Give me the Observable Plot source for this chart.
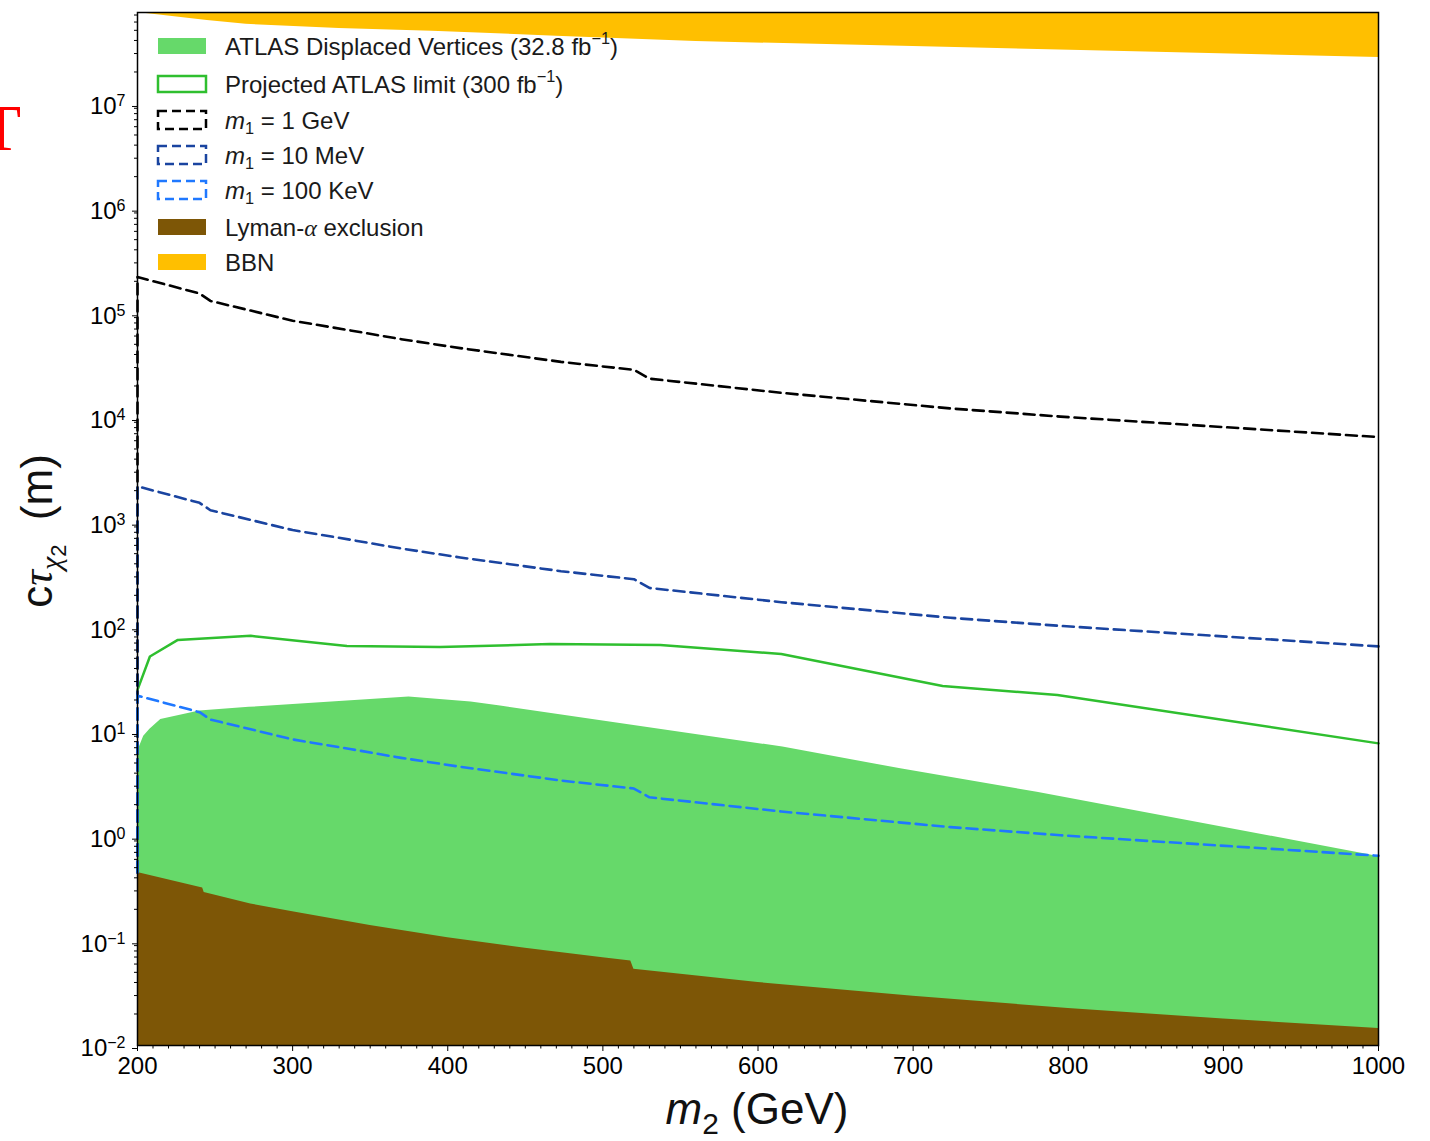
<!DOCTYPE html>
<html>
<head>
<meta charset="utf-8">
<script src="https://cdn.jsdelivr.net/npm/d3@7"></script>
<script src="https://cdn.jsdelivr.net/npm/@observablehq/plot@0.6"></script>
<style>
  body { margin: 0; background: #fff; }
  #chart svg { display: block; }
</style>
</head>
<body>
<div id="chart"></div>
<script>
// ---- Data: lifetime c·tau of chi2 (m) versus m2 (GeV) ----

// BBN excluded band (from this lower edge up to the top of the plot)
const massBBN  = [200, 245, 270, 330, 390, 470, 560, 700, 850, 1000];
const bbnLimit = [7.4e7, 6.2e7, 5.7e7, 5.2e7, 4.9e7, 4.4e7, 3.9e7, 3.5e7, 3.1e7, 2.75e7];

// ATLAS displaced-vertex excluded region (32.8 fb^-1), upper edge
const massDV  = [200, 204, 208, 215, 240, 272, 375, 415, 434, 616, 692, 780, 1000];
const atlasDV = [6.4, 9, 10.5, 13, 15.7, 17, 21.3, 19.1, 17.5, 7.1, 4.4, 2.63, 0.64];

// Lyman-alpha excluded region, upper edge
const massLya    = [200, 242, 243, 273, 300, 350, 400, 450, 500, 518, 520, 600, 700, 800, 900, 1000];
const lymanAlpha = [0.45, 0.32, 0.29, 0.225, 0.19, 0.14, 0.107, 0.085, 0.069, 0.064, 0.0535, 0.040, 0.0295, 0.0226, 0.0179, 0.0145];

// Projected ATLAS limit (300 fb^-1)
const massProj       = [200, 208, 226, 273, 335, 395, 466, 537, 615, 719, 793, 1000];
const atlasProjected = [25, 52, 75, 82, 65.5, 64, 68.5, 67, 55, 27.2, 22.3, 7.7];

// Predicted lifetime for three values of m1
const massM1   = [200, 200, 240, 247, 273, 300, 337, 370, 408, 473, 520, 530, 615, 724, 795, 1000];
const ctau1GeV = [0.45, 2.2e5, 1.53e5, 1.3e5, 1.05e5, 8.4e4, 6.8e4, 5.6e4, 4.6e4, 3.4e4, 2.85e4, 2.35e4, 1.72e4, 1.22e4, 1.02e4, 6.5e3];
const ctau10MeV  = [0.45, 2.2e3, 1.53e3, 1.3e3, 1.05e3, 840, 680, 560, 460, 340, 285, 235, 172, 122, 102, 65];
const ctau100KeV = [0.45, 22, 15.3, 13, 10.5, 8.4, 6.8, 5.6, 4.6, 3.4, 2.85, 2.35, 1.72, 1.22, 1.02, 0.65];

// Axes
const xTicks = [200, 300, 400, 500, 600, 700, 800, 900, 1000];
const yTicks = [1e-2, 1e-1, 1e0, 1e1, 1e2, 1e3, 1e4, 1e5, 1e6, 1e7];
const yBottom = 1e-2, yTop = 7.4e7;

const xMinor = d3.range(210, 1000, 10).filter(v => v % 100 !== 0);
const yMinor = [];
for (let e = -2; e <= 7; e++) for (let k = 2; k <= 9; k++) {
  const v = k * Math.pow(10, e);
  if (v < yTop) yMinor.push(v);
}

const rows = (xs, ys) => xs.map((m, i) => ({m, v: ys[i]}));

const C = {
  dv: "#66d96a", proj: "#2fbf2f", lya: "#7d5606", bbn: "#ffbf00",
  gev: "#000000", mev: "#1a44a0", kev: "#1f78ff"
};
const dash = "11,6";

const chart = Plot.plot({
  width: 1430,
  height: 1141,
  marginLeft: 137,
  marginRight: 52,
  marginTop: 12,
  marginBottom: 96,
  style: {fontFamily: "'Liberation Sans', Arial, sans-serif", fontSize: "24px", color: "black", background: "white"},
  x: {domain: [200, 1000], axis: null, label: null},
  y: {type: "log", domain: [yBottom, yTop], axis: null, label: null},
  marks: [
    Plot.areaY(rows(massBBN, bbnLimit), {x: "m", y1: "v", y2: yTop, fill: C.bbn}),
    Plot.areaY(rows(massDV, atlasDV), {x: "m", y1: yBottom, y2: "v", fill: C.dv}),
    Plot.areaY(rows(massLya, lymanAlpha), {x: "m", y1: yBottom, y2: "v", fill: C.lya}),
    Plot.line(rows(massProj, atlasProjected), {x: "m", y: "v", stroke: C.proj, strokeWidth: 2.5}),
    Plot.line(rows(massM1, ctau1GeV), {x: "m", y: "v", stroke: C.gev, strokeWidth: 2.6, strokeDasharray: dash}),
    Plot.line(rows(massM1, ctau10MeV), {x: "m", y: "v", stroke: C.mev, strokeWidth: 2.6, strokeDasharray: dash}),
    Plot.line(rows(massM1, ctau100KeV), {x: "m", y: "v", stroke: C.kev, strokeWidth: 2.6, strokeDasharray: dash}),
    Plot.frame({stroke: "black", strokeWidth: 1.5}),
    Plot.axisX({ticks: xTicks, tickSize: 6, tickPadding: 5, label: null, tickFormat: d => String(d)}),
    Plot.axisX({ticks: xMinor, tickSize: 3.5, label: null, tickFormat: () => ""}),
    Plot.axisY({ticks: yTicks, tickSize: 5, tickPadding: 7, dy: 3, label: null,
                tickFormat: d => "10|" + Math.round(Math.log10(d))}),
    Plot.axisY({ticks: yMinor, tickSize: 3, label: null, tickFormat: () => ""})
  ]
});

document.getElementById("chart").appendChild(chart);
const svg = d3.select(chart);

// Powers of ten as superscripts on the y tick labels
svg.selectAll('g[aria-label="y-axis tick label"] text').each(function () {
  const s = this.textContent;
  if (!s.includes("|")) return;
  const [base, exp] = s.split("|");
  const t = d3.select(this);
  t.text(null);
  t.append("tspan").text(base);
  t.append("tspan").attr("dy", "-0.5em").attr("font-size", "16px").text(exp.replace("-", "\u2212"));
});

// Rich text helper: parts are [text, kind] where kind is sup, sub, it, greek
function richText(sel, parts, size) {
  let shift = 0;
  parts.forEach(([txt, kind]) => {
    const sp = sel.append("tspan").text(txt);
    let target = 0;
    if (kind === "sup") { sp.attr("font-size", size * 0.68); target = -size * 0.42; }
    if (kind === "sub") { sp.attr("font-size", size * 0.68); target = size * 0.22; }
    if (kind === "it") sp.attr("font-style", "italic");
    if (kind === "greek") sp.attr("font-style", "italic").attr("font-family", "'Liberation Serif', 'DejaVu Serif', serif");
    if (target !== shift) { sp.attr("dy", target - shift); shift = target; }
  });
}

// Legend in the upper-left corner of the plot
const legendItems = [
  {swatch: "fill", color: C.dv, parts: [["ATLAS Displaced Vertices (32.8 fb"], ["\u22121", "sup"], [")"]]},
  {swatch: "outline", color: C.proj, parts: [["Projected ATLAS limit (300 fb"], ["\u22121", "sup"], [")"]]},
  {swatch: "dashed", color: C.gev, parts: [["m", "it"], ["1", "sub"], [" = 1 GeV"]]},
  {swatch: "dashed", color: C.mev, parts: [["m", "it"], ["1", "sub"], [" = 10 MeV"]]},
  {swatch: "dashed", color: C.kev, parts: [["m", "it"], ["1", "sub"], [" = 100 KeV"]]},
  {swatch: "fill", color: C.lya, parts: [["Lyman-"], ["\u03b1", "greek"], [" exclusion"]]},
  {swatch: "fill", color: C.bbn, parts: [["BBN"]]}
];
const rowCenters = [46, 84, 120, 155, 190, 227, 262];
const legend = svg.append("g")
  .attr("text-anchor", "start")
  .attr("font-family", "'Liberation Sans', Arial, sans-serif")
  .attr("font-size", 24)
  .attr("fill", "#1a1a1a");
legendItems.forEach((it, i) => {
  const cy = rowCenters[i];
  const h = it.swatch === "dashed" ? 18 : 16;
  const r = legend.append("rect").attr("x", 158).attr("y", cy - h / 2).attr("width", 48).attr("height", h);
  if (it.swatch === "fill") r.attr("fill", it.color);
  else if (it.swatch === "outline") r.attr("fill", "none").attr("stroke", it.color).attr("stroke-width", 2.5);
  else r.attr("fill", "none").attr("stroke", it.color).attr("stroke-width", 2.5).attr("stroke-dasharray", "9,5");
  const t = legend.append("text").attr("x", 225).attr("y", cy + 8.5).attr("text-anchor", "start");
  richText(t, it.parts, 24);
});

// Axis titles
const xTitle = svg.append("text")
  .attr("x", 757).attr("y", 1124)
  .attr("text-anchor", "middle")
  .attr("font-family", "'Liberation Sans', Arial, sans-serif")
  .attr("font-size", 44).attr("fill", "#111");
richText(xTitle, [["m", "it"], ["2", "sub"], [" (GeV)"]], 44);

const yTitle = svg.append("text")
  .attr("transform", "translate(52,531) rotate(-90)")
  .attr("text-anchor", "middle")
  .attr("font-family", "'Liberation Sans', Arial, sans-serif")
  .attr("font-size", 44).attr("fill", "#111");
yTitle.append("tspan").text("c");
yTitle.append("tspan").attr("font-style", "italic").attr("font-family", "'Liberation Serif', 'DejaVu Serif', serif").text("\u03c4");
yTitle.append("tspan").attr("font-style", "italic").attr("font-family", "'Liberation Serif', 'DejaVu Serif', serif")
  .attr("font-size", 30).attr("dy", 9).text("\u03c7");
yTitle.append("tspan").attr("font-size", 22).attr("dy", 5).text("2");
yTitle.append("tspan").attr("dy", -14).text("  (m)");

// Red serif letter at the page's left edge
svg.append("text")
  .attr("x", 1).attr("y", 150)
  .attr("text-anchor", "middle")
  .attr("font-family", "'Liberation Serif', 'Times New Roman', serif")
  .attr("font-size", 66).attr("fill", "#ff0000")
  .text("T");
</script>
</body>
</html>
